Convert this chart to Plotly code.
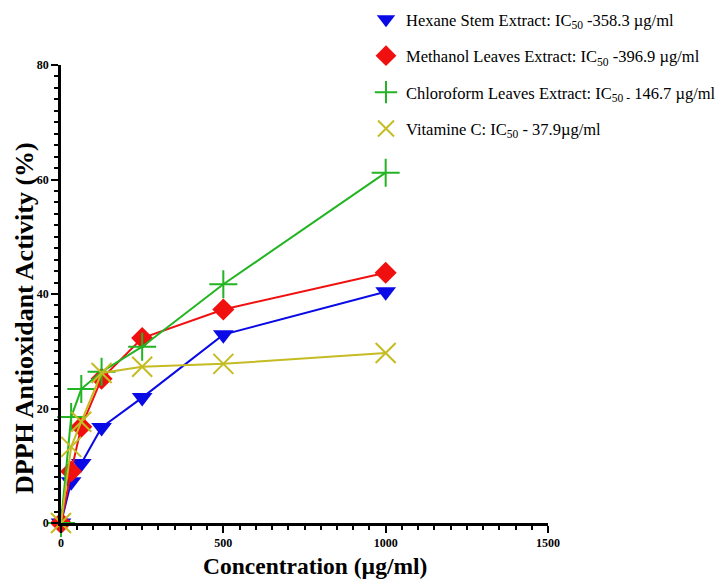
import plotly.graph_objects as go

concentration = [0, 31.25, 62.5, 125, 250, 500, 1000]
hexane = [0, 7.2, 10.4, 16.7, 21.9, 32.9, 40.4]
methanol = [0, 9.0, 16.8, 25.2, 32.3, 37.3, 43.7]
chloroform = [0, 18.5, 23.4, 26.4, 30.8, 41.7, 61.2]
vitamin_c = [0, 13.3, 17.7, 26.2, 27.3, 27.8, 29.7]

names = [
    "Hexane Stem Extract: IC<sub>50</sub> -358.3 µg/ml",
    "Methanol Leaves Extract: IC<sub>50</sub> -396.9 µg/ml",
    "Chloroform Leaves Extract: IC<sub>50 -</sub> 146.7 µg/ml",
    "Vitamine C: IC<sub>50</sub> - 37.9µg/ml",
]
x_title = "<b>Concentration (µg/ml)</b>"
y_title = "<b>DPPH Antioxidant Activity (%)</b>"
series = [hexane, methanol, chloroform, vitamin_c]
colors = ["#0a0ae6", "#f01010", "#22b422", "#c4bc22"]
symbols = ["triangle-down", "diamond", "cross-thin", "x-thin"]
sizes = [18, 17, 20, 20]

fig = go.Figure()
for i, (nm, ys, c, s, sz) in enumerate(zip(names, series, colors, symbols, sizes)):
    thin = s.endswith("thin")
    mk = dict(symbol=s, size=sz, color=c, line=dict(color=c, width=2 if thin else 0))
    fig.add_trace(go.Scatter(
        x=concentration, y=ys, name=nm, mode="lines+markers",
        line=dict(color=c, width=2), marker=mk,
        cliponaxis=False, showlegend=False,
    ))
    # legend-only entry showing the marker without the line
    fig.add_trace(go.Scatter(
        x=[None], y=[None], name=nm, mode="markers", marker=mk,
        legendgroup=str(i), showlegend=True,
    ))

W, H = 724, 580
L, R, T, B = 61, 176, 65, 57
pw, ph = W - L - R, H - T - B

font_serif = "Liberation Serif, Times New Roman, serif"
fig.update_layout(
    width=W, height=H,
    margin=dict(l=L, r=R, t=T, b=B, autoexpand=False),
    paper_bgcolor="white", plot_bgcolor="white",
    font=dict(family=font_serif, color="black"),
    showlegend=True,
    legend=dict(xref="container", yref="container", x=366 / W, y=1 - 2 / H,
                xanchor="left", yanchor="top",
                font=dict(family=font_serif, size=16.5, color="black"),
                tracegroupgap=12, bgcolor="rgba(0,0,0,0)"),
    xaxis=dict(
        range=[0, 1500], tickvals=[0, 500, 1000, 1500], automargin=False,
        showgrid=False, zeroline=False, showline=True, linecolor="black", linewidth=2.5,
        ticks="outside", ticklen=7, tickwidth=2, tickcolor="black",
        minor=dict(dtick=50, ticks="outside", ticklen=4, tickwidth=2, tickcolor="black", showgrid=False),
        tickfont=dict(family=font_serif, size=12, color="black", weight="bold"),
    ),
    yaxis=dict(
        range=[0, 80], tickvals=[0, 20, 40, 60, 80], automargin=False,
        showgrid=False, zeroline=False, showline=True, linecolor="black", linewidth=2.5,
        ticks="outside", ticklen=7, tickwidth=2, tickcolor="black",
        minor=dict(dtick=2, ticks="outside", ticklen=4, tickwidth=2, tickcolor="black", showgrid=False),
        tickfont=dict(family=font_serif, size=12, color="black", weight="bold"),
    ),
    annotations=[
        dict(text=x_title, xref="paper", yref="paper",
             x=(315 - L) / pw, y=-(566 - (H - B)) / ph, xanchor="center", yanchor="middle",
             showarrow=False, font=dict(family=font_serif, size=23.5, color="black")),
        dict(text=y_title, xref="paper", yref="paper", textangle=-90,
             x=(24 - L) / pw, y=((H - B) - 318) / ph, xanchor="center", yanchor="middle",
             showarrow=False, font=dict(family=font_serif, size=26, color="black")),
    ],
)

fig.write_html("out.html", config={"displayModeBar": False},
               post_script="document.body.style.margin='0px';")
